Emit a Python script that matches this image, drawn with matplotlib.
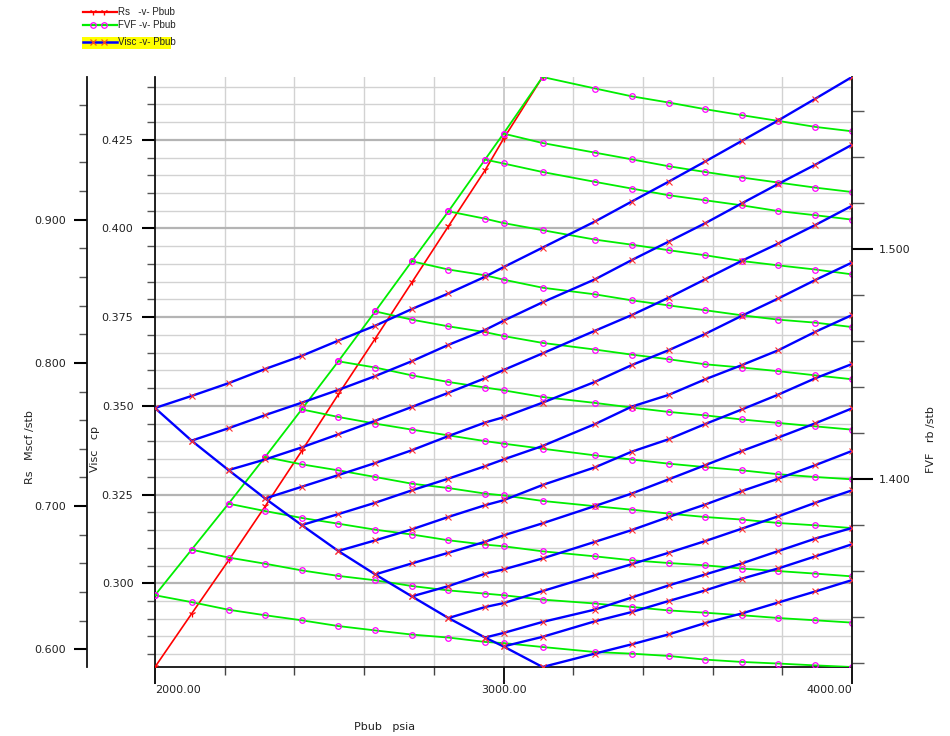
import matplotlib
matplotlib.use("Agg")
import matplotlib.pyplot as plt
from matplotlib.ticker import MultipleLocator, FormatStrFormatter
from matplotlib.patches import Rectangle
from matplotlib.lines import Line2D

# --- values ---
# shared Pbub grid (psia) used by every series
pbub = [2000, 2105, 2211, 2316, 2421, 2526, 2632, 2737, 2842, 2947,
        3000, 3112, 3263, 3368, 3474, 3579, 3684, 3789, 3895, 4000]

# Rs (Mscf/stb) along the base curve, one value per branch start
rs = [0.5876, 0.6248, 0.6620, 0.6998, 0.7385, 0.7780, 0.8170, 0.8562,
      0.8955, 0.9345, 0.9565, 0.9997]

# FVF (rb/stb) branches, branch j starts at pbub[j]
fvf_0 = [1.3493, 1.3463, 1.3430, 1.3406, 1.3384, 1.3359, 1.3340, 1.3322, 1.3309, 1.3290,
         1.3285, 1.3268, 1.3246, 1.3239, 1.3229, 1.3213, 1.3203, 1.3196, 1.3188, 1.3181]
fvf_1 = [1.3691, 1.3657, 1.3630, 1.3601, 1.3577, 1.3558, 1.3533, 1.3514, 1.3500, 1.3493,
         1.3474, 1.3457, 1.3442, 1.3427, 1.3417, 1.3406, 1.3394, 1.3384, 1.3374]
fvf_2 = [1.3891, 1.3859, 1.3829, 1.3804, 1.3778, 1.3757, 1.3732, 1.3713, 1.3706, 1.3684,
         1.3662, 1.3645, 1.3633, 1.3623, 1.3609, 1.3598, 1.3587, 1.3575]
fvf_3 = [1.4094, 1.4062, 1.4036, 1.4007, 1.3978, 1.3959, 1.3935, 1.3927, 1.3903, 1.3880,
         1.3865, 1.3848, 1.3833, 1.3822, 1.3807, 1.3797, 1.3785]
fvf_4 = [1.4301, 1.4268, 1.4239, 1.4213, 1.4188, 1.4163, 1.4152, 1.4130, 1.4101, 1.4083,
         1.4065, 1.4050, 1.4036, 1.4019, 1.4007, 1.3997]
fvf_5 = [1.4510, 1.4483, 1.4449, 1.4420, 1.4396, 1.4384, 1.4355, 1.4329, 1.4309, 1.4290,
         1.4275, 1.4257, 1.4242, 1.4227, 1.4213]
fvf_6 = [1.4727, 1.4691, 1.4662, 1.4637, 1.4620, 1.4590, 1.4561, 1.4539, 1.4519, 1.4497,
         1.4483, 1.4467, 1.4449, 1.4432]
fvf_7 = [1.4945, 1.4909, 1.4884, 1.4865, 1.4830, 1.4801, 1.4775, 1.4753, 1.4732, 1.4710,
         1.4691, 1.4678, 1.4659]
fvf_8 = [1.5162, 1.5130, 1.5111, 1.5080, 1.5039, 1.5017, 1.4993, 1.4971, 1.4946, 1.4927,
         1.4909, 1.4888]
fvf_9 = [1.5387, 1.5370, 1.5333, 1.5290, 1.5261, 1.5232, 1.5210, 1.5188, 1.5163, 1.5145,
         1.5126]
fvf_10 = [1.5500, 1.5459, 1.5417, 1.5388, 1.5358, 1.5333, 1.5309, 1.5287, 1.5265, 1.5246]
fvf_11 = [1.5746, 1.5696, 1.5662, 1.5635, 1.5606, 1.5580, 1.5555, 1.5529, 1.5510]

# Viscosity (cp) branches, branch j starts at pbub[j]
visc_0 = [0.3494, 0.3528, 0.3564, 0.3604, 0.3641, 0.3684, 0.3726, 0.3773, 0.3817, 0.3864,
          0.3891, 0.3946, 0.4020, 0.4076, 0.4132, 0.4189, 0.4247, 0.4305, 0.4366, 0.4427]
visc_1 = [0.3402, 0.3437, 0.3474, 0.3509, 0.3545, 0.3584, 0.3626, 0.3672, 0.3714, 0.3740,
          0.3792, 0.3857, 0.3911, 0.3963, 0.4015, 0.4071, 0.4126, 0.4180, 0.4236]
visc_2 = [0.3319, 0.3349, 0.3383, 0.3420, 0.3458, 0.3497, 0.3537, 0.3578, 0.3601, 0.3648,
          0.3712, 0.3756, 0.3805, 0.3857, 0.3909, 0.3958, 0.4010, 0.4064]
visc_3 = [0.3239, 0.3272, 0.3305, 0.3339, 0.3375, 0.3415, 0.3453, 0.3468, 0.3509, 0.3568,
          0.3615, 0.3657, 0.3703, 0.3754, 0.3803, 0.3855, 0.3904]
visc_4 = [0.3164, 0.3195, 0.3227, 0.3262, 0.3295, 0.3330, 0.3349, 0.3387, 0.3449, 0.3498,
          0.3531, 0.3575, 0.3615, 0.3657, 0.3709, 0.3756]
visc_5 = [0.3091, 0.3121, 0.3152, 0.3187, 0.3220, 0.3234, 0.3277, 0.3327, 0.3371, 0.3406,
          0.3449, 0.3490, 0.3532, 0.3578, 0.3618]
visc_6 = [0.3025, 0.3056, 0.3086, 0.3117, 0.3135, 0.3169, 0.3218, 0.3253, 0.3293, 0.3333,
          0.3373, 0.3411, 0.3451, 0.3493]
visc_7 = [0.2963, 0.2992, 0.3027, 0.3039, 0.3070, 0.3117, 0.3150, 0.3187, 0.3222, 0.3260,
          0.3295, 0.3333, 0.3373]
visc_8 = [0.2902, 0.2933, 0.2944, 0.2978, 0.3023, 0.3054, 0.3086, 0.3119, 0.3154, 0.3189,
          0.3227, 0.3262]
visc_9 = [0.2847, 0.2860, 0.2891, 0.2926, 0.2960, 0.2994, 0.3025, 0.3056, 0.3091, 0.3126,
          0.3156]
visc_10 = [0.2822, 0.2849, 0.2893, 0.2919, 0.2950, 0.2980, 0.3013, 0.3042, 0.3076, 0.3110]
visc_11 = [0.2764, 0.2802, 0.2828, 0.2856, 0.2888, 0.2915, 0.2946, 0.2977, 0.3009]

fvf_branches = [fvf_0, fvf_1, fvf_2, fvf_3, fvf_4, fvf_5,
                fvf_6, fvf_7, fvf_8, fvf_9, fvf_10, fvf_11]
visc_branches = [visc_0, visc_1, visc_2, visc_3, visc_4, visc_5,
                 visc_6, visc_7, visc_8, visc_9, visc_10, visc_11]

x_ticks = [2000, 3000, 4000]
x_tick_labels = ["2000.00", "3000.00", "4000.00"]
legend_labels = ["Rs   -v- Pbub", "FVF -v- Pbub", "Visc -v- Pbub"]

# --- styles ---
RED = "#ff0000"
GREEN = "#00ee00"
BLUE = "#0000ff"
MAGENTA = "#ff00ff"
XRED = "#ff3030"
TXT = "#222222"

plt.rcParams["font.family"] = ["DejaVu Sans"]

W, H = 950, 736
fig = plt.figure(figsize=(W / 100, H / 100), dpi=100)

# plot area in pixels: x 155..852, y 77..667
ax = fig.add_axes([155 / W, (H - 667) / H, (852 - 155) / W, (667 - 77) / H])
ax_rs = ax.twinx()
ax_f = ax.twinx()
ax_b = ax.twinx()

n_base = len(rs)

# Rs base curve
ax_rs.plot(pbub[:n_base], rs, color=RED, lw=1.2, marker="1", ms=5,
           mec=RED, mew=0.9, solid_joinstyle="round")

# FVF: base curve + branches
fvf_base = [b[0] for b in fvf_branches]
ax_f.plot(pbub[:n_base], fvf_base, color=GREEN, lw=1.3, marker="o", ms=4,
          mfc="none", mec=MAGENTA, mew=0.9)
for j, vals in enumerate(fvf_branches):
    ax_f.plot(pbub[j:], vals, color=GREEN, lw=1.3, marker="o", ms=4,
              mfc="none", mec=MAGENTA, mew=0.9)

# Viscosity: base curve + branches
visc_base = [b[0] for b in visc_branches]
ax_b.plot(pbub[:n_base], visc_base, color=BLUE, lw=1.7, marker="x", ms=4,
          mec=XRED, mew=0.8)
for j, vals in enumerate(visc_branches):
    ax_b.plot(pbub[j:], vals, color=BLUE, lw=1.7, marker="x", ms=4,
              mec=XRED, mew=0.8)

# --- limits: each axis spans its data ---
all_visc = [v for b in visc_branches for v in b]
all_fvf = [v for b in fvf_branches for v in b]
ax.set_xlim(2000, 4000)
ax.set_ylim(min(all_visc), max(all_visc))
ax_b.set_ylim(min(all_visc), max(all_visc))
ax_rs.set_ylim(min(rs), max(rs))
ax_f.set_ylim(min(all_fvf), max(all_fvf))

# --- x axis ---
ax.set_xticks(x_ticks, labels=x_tick_labels)
ax.xaxis.set_minor_locator(MultipleLocator(200))
ax.tick_params(axis="x", which="major", direction="out", length=12, width=1.3,
               pad=1, labelsize=8, labelcolor=TXT)
ax.tick_params(axis="x", which="minor", direction="out", length=5.5, width=1.0,
               color="#444444")
xl = ax.get_xticklabels()
xl[0].set_ha("left")
xl[-1].set_ha("right")

# --- viscosity axis (left, inner) ---
ax.yaxis.set_major_locator(MultipleLocator(0.025))
ax.yaxis.set_minor_locator(MultipleLocator(0.005))
ax.yaxis.set_major_formatter(FormatStrFormatter("%.3f"))
ax.tick_params(axis="y", which="major", direction="out", length=9.5, width=1.5,
               pad=6, labelsize=8, labelcolor=TXT)
ax.tick_params(axis="y", which="minor", direction="out", length=6, width=1.0,
               color="#555555")

# grid from the viscosity and pressure ticks
ax.grid(True, which="minor", axis="both", color="#d2d2d2", lw=1.0)
ax.grid(True, which="major", axis="y", color="#b4b4b4", lw=1.6)
ax.grid(True, which="major", axis="x", color="#c4c4c4", lw=1.2)
ax.set_axisbelow(True)

for s in ("top", "right"):
    ax.spines[s].set_visible(False)
for s in ("left", "bottom"):
    ax.spines[s].set_linewidth(1.3)
    ax.spines[s].set_color("#111111")

# --- Rs axis (left, outer) ---
for s in ("top", "bottom", "right"):
    ax_rs.spines[s].set_visible(False)
ax_rs.spines["left"].set_visible(True)
ax_rs.spines["left"].set_position(("outward", 49))
ax_rs.spines["left"].set_linewidth(1.3)
ax_rs.spines["left"].set_color("#111111")
ax_rs.yaxis.set_ticks_position("left")
ax_rs.yaxis.set_label_position("left")
ax_rs.yaxis.set_major_locator(MultipleLocator(0.1))
ax_rs.yaxis.set_minor_locator(MultipleLocator(0.02))
ax_rs.yaxis.set_major_formatter(FormatStrFormatter("%.3f"))
ax_rs.tick_params(axis="y", which="major", direction="out", length=9.5, width=1.5,
                  pad=5.5, labelsize=8, labelcolor=TXT)
ax_rs.tick_params(axis="y", which="minor", direction="out", length=5.5, width=1.0,
                  color="#555555")

# --- FVF axis (right) ---
for s in ("top", "bottom", "left"):
    ax_f.spines[s].set_visible(False)
ax_f.spines["right"].set_linewidth(1.3)
ax_f.spines["right"].set_color("#111111")
ax_f.yaxis.set_major_locator(MultipleLocator(0.1))
ax_f.yaxis.set_minor_locator(MultipleLocator(0.02))
ax_f.yaxis.set_major_formatter(FormatStrFormatter("%.3f"))
ax_f.tick_params(axis="y", which="major", direction="out", length=15, width=1.5,
                 pad=4, labelsize=8, labelcolor=TXT)
ax_f.tick_params(axis="y", which="minor", direction="out", length=8.5, width=1.0,
                 color="#555555")

# overlay axes only carries the blue series
ax_b.axis("off")

# --- axis titles ---
fig.text(30 / W, 1 - 447 / H, "Rs   Mscf /stb", rotation=90, ha="center",
         va="center", fontsize=8, color=TXT)
fig.text(95 / W, 1 - 449 / H, "Visc   cp", rotation=90, ha="center",
         va="center", fontsize=8, color=TXT)
fig.text(931 / W, 1 - 440 / H, "FVF   rb /stb", rotation=90, ha="center",
         va="center", fontsize=8, color=TXT)
fig.text(385 / W, 1 - 727 / H, "Pbub   psia", ha="center", va="center",
         fontsize=8, color=TXT)

# --- legend block, top-left ---
lg = fig.add_axes([0, 0, 1, 1], zorder=10)
lg.set_xlim(0, W)
lg.set_ylim(H, 0)
lg.axis("off")
lg.add_patch(Rectangle((82, 36.5), 89, 12, color="yellow", lw=0))
legend_styles = [
    dict(color=RED, lw=1.6, marker="1", ms=5, mec=RED, mew=1.0),
    dict(color=GREEN, lw=1.6, marker="o", ms=4, mfc="none", mec=MAGENTA, mew=0.9),
    dict(color=BLUE, lw=1.8, marker="x", ms=4, mec="#ff5010", mew=0.9),
]
row_y = [11.7, 25.0, 42.3]
for lab, st, yy in zip(legend_labels, legend_styles, row_y):
    lg.add_line(Line2D([83, 117], [yy, yy], color=st["color"], lw=st["lw"]))
    lg.add_line(Line2D([93, 104], [yy, yy], ls="none", marker=st["marker"],
                       ms=st["ms"], mec=st["mec"], mew=st["mew"],
                       mfc=st.get("mfc", st["mec"])))
    lg.text(118, yy, lab, fontsize=7, va="center", ha="left", color=TXT,
            family="Liberation Sans")

fig.savefig("out.png", dpi=100)
